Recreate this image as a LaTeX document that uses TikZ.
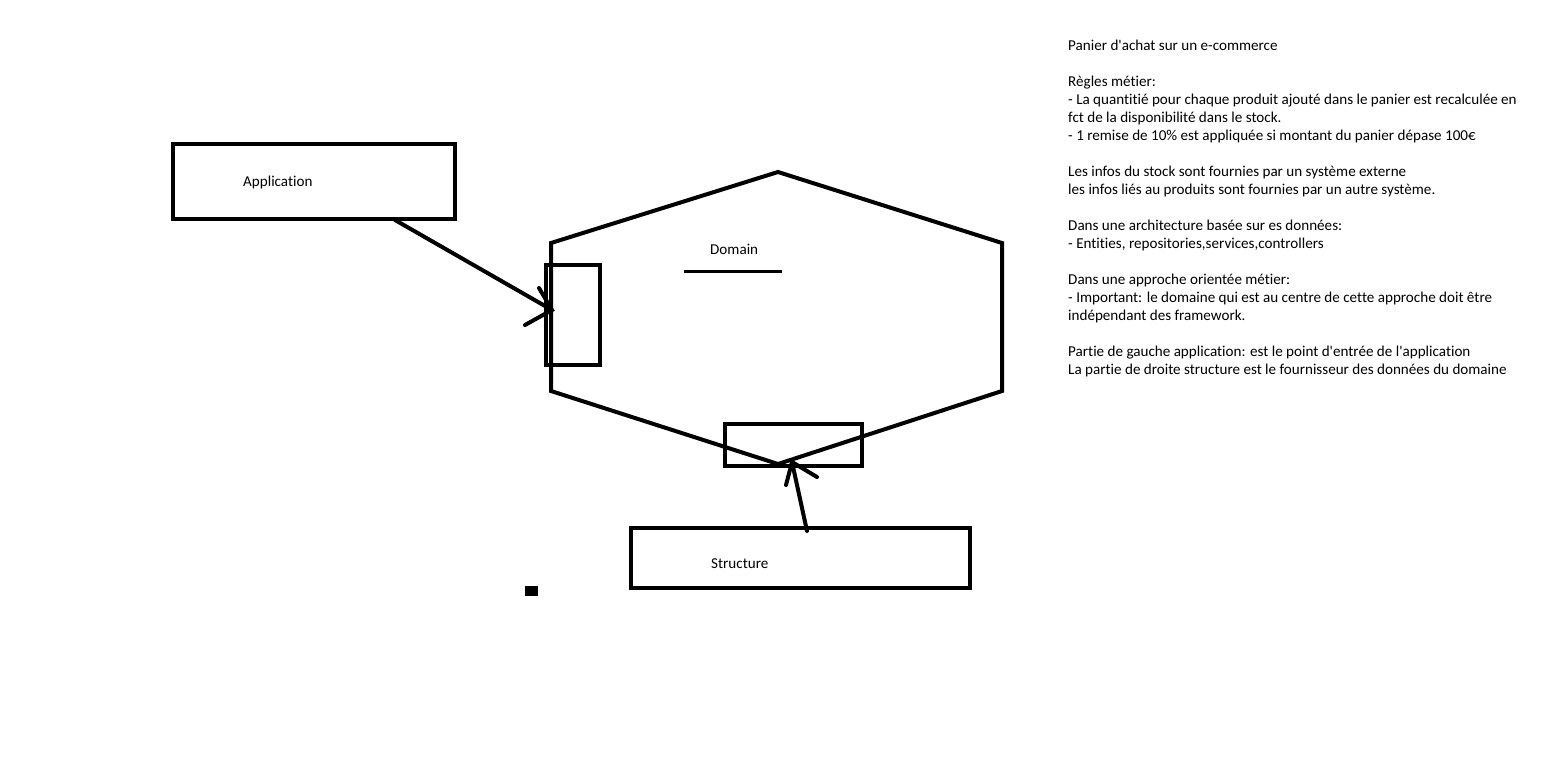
\documentclass[tikz,border=0pt]{standalone}
\usepackage{fontspec}
\newfontfamily\calibfont{Carlito}[Ligatures={NoCommon}]
\begin{document}
\begin{tikzpicture}[x=1pt,y=-1pt,
  line join=miter,
  box/.style={draw=black,line width=4pt,inner sep=0pt},
  shapeline/.style={draw=black,line width=4pt},
  conn/.style={draw=black,line width=4pt,line cap=round},
  lbl/.style={font=\calibfont\fontsize{15.1}{18}\selectfont,inner sep=0pt,anchor=base west,text=black}]
\useasboundingbox (0,0) rectangle (1554,763);
% Application box
\node[box,minimum width=282pt,minimum height=75pt] (app) at (314,181.5) {};
\node[lbl] (applbl) at (243,186) {Application};
% Hexagon (domain)
\coordinate (ht) at (778,172);
\coordinate (hur) at (1002,243);
\coordinate (hlr) at (1002,391);
\coordinate (hb) at (778,464);
\coordinate (hll) at (551,391);
\coordinate (hul) at (551,243);
\draw[shapeline] (ht) -- (hur) -- (hlr) -- (hb) -- (hll) -- (hul) -- cycle;
\node[lbl] (domlbl) at (710,254) {Domain};
\coordinate (ul1) at (684,271);
\coordinate (ul2) at (782,271);
\draw[draw=black,line width=3pt] (ul1) -- (ul2);
% ports
\node[box,minimum width=54pt,minimum height=100.5pt] (lport) at (572.5,314.75) {};
\node[box,minimum width=137pt,minimum height=41.5pt] (bport) at (793.5,444.75) {};
% Structure box
\node[box,minimum width=339pt,minimum height=60pt] (struct) at (800.5,558) {};
\node[lbl] (structlbl) at (711,568) {Structure};
% small mark
\fill[black] (525,586) rectangle (538,596);
% arrow application -> domain
\coordinate (a1) at (395,220);
\coordinate (a1tip) at (552,310);
\coordinate (a1h1) at (539,288);
\coordinate (a1h2) at (525,325);
\draw[conn] (a1) -- (a1tip);
\draw[conn] (a1h1) -- (a1tip) -- (a1h2);
% arrow structure -> domain
\coordinate (a2) at (807,531);
\coordinate (a2tip) at (792,462);
\coordinate (a2h1) at (786,485);
\coordinate (a2h2) at (817,477);
\draw[conn] (a2) -- (a2tip);
\draw[conn] (a2h1) -- (a2tip) -- (a2h2);
% notes
\node[lbl,anchor=north west,align=left] (notes) at (1068,39.5) {%
Panier d'achat sur un e-commerce\\[18pt]
Règles métier:\\
- La quantitié pour chaque produit ajouté dans le panier est recalculée en\\
fct de la disponibilité dans le stock.\\
- 1 remise de 10\% est appliquée si montant du panier dépase 100€\\[18pt]
Les infos du stock sont fournies par un système externe\\
les infos liés au produits sont fournies par un autre système.\\[18pt]
Dans une architecture basée sur es données:\\
- Entities, repositories,services,controllers\\[18pt]
Dans une approche orientée métier:\\
- Important: le domaine qui est au centre de cette approche doit être\\
indépendant des framework.\\[18pt]
Partie de gauche application: est le point d'entrée de l'application\\
La partie de droite structure est le fournisseur des données du domaine};
\end{tikzpicture}
\end{document}
